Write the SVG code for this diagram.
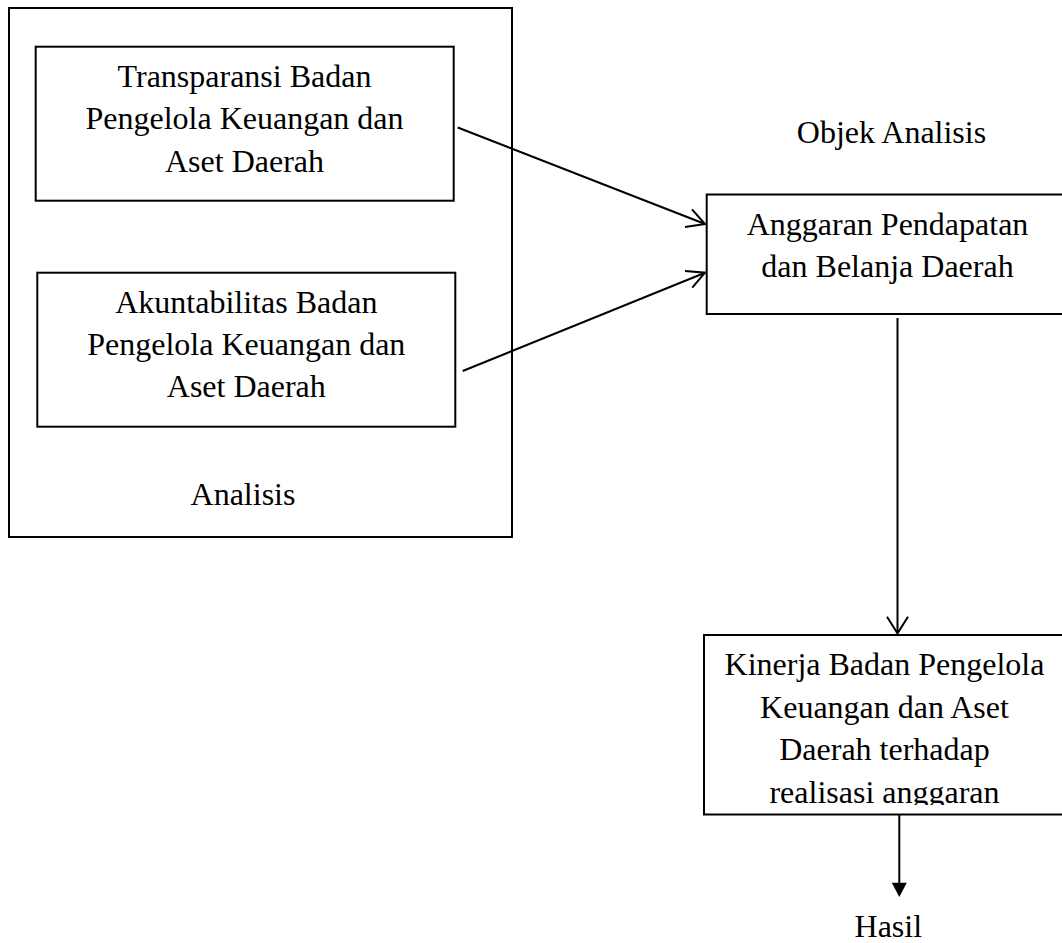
<svg xmlns="http://www.w3.org/2000/svg" width="1062" height="943" viewBox="0 0 1062 943">
<style>
.box{fill:none;stroke:#000;stroke-width:2}
.t{font-family:"Liberation Serif","Times New Roman",serif;font-size:32px;fill:#000;text-anchor:middle}
.c{fill:none;stroke:#000;stroke-width:2}
</style>
<defs>
<clipPath id="kclip"><rect x="700" y="630" width="370" height="175"/></clipPath>
</defs>
<rect width="1062" height="943" fill="#fff"/>
<g id="analisis">
<rect class="box" x="9" y="8" width="503" height="529"/>
<text class="t" x="243" y="505">Analisis</text>
</g>
<g id="transparansi">
<rect class="box" x="35.7" y="46.7" width="418" height="154"/>
<text class="t" x="244.5" y="86.5">Transparansi Badan</text>
<text class="t" x="244.5" y="129">Pengelola Keuangan dan</text>
<text class="t" x="244.5" y="171.5">Aset Daerah</text>
</g>
<g id="akuntabilitas">
<rect class="box" x="37.3" y="272.7" width="418" height="154"/>
<text class="t" x="246.3" y="312.7">Akuntabilitas Badan</text>
<text class="t" x="246.3" y="355">Pengelola Keuangan dan</text>
<text class="t" x="246.3" y="397.3">Aset Daerah</text>
</g>
<g id="objek">
<text class="t" x="891.5" y="143.3">Objek Analisis</text>
</g>
<g id="apbd">
<rect class="box" x="706.7" y="194.5" width="370" height="119.5"/>
<text class="t" x="887.5" y="235">Anggaran Pendapatan</text>
<text class="t" x="887.5" y="276.7">dan Belanja Daerah</text>
</g>
<g id="kinerja">
<rect class="box" x="704" y="635" width="370" height="179.5"/>
<g clip-path="url(#kclip)">
<text class="t" x="884.5" y="675">Kinerja Badan Pengelola</text>
<text class="t" x="884.5" y="717.5">Keuangan dan Aset</text>
<text class="t" x="884.5" y="760">Daerah terhadap</text>
<text class="t" x="884.5" y="802.5">realisasi anggaran</text>
</g>
</g>
<g id="hasil">
<text class="t" x="888.3" y="936.5">Hasil</text>
</g>
<g id="connectors">
<line class="c" x1="457.7" y1="127.5" x2="705" y2="224"/>
<polyline class="c" points="685,227 705,224 692,209.3"/>
<line class="c" x1="462.7" y1="371" x2="705" y2="272.7"/>
<polyline class="c" points="685,271 705,272.7 692.3,287.7"/>
<line class="c" x1="897.5" y1="318" x2="897.5" y2="633.3"/>
<polyline class="c" points="887,616.7 897.5,633.3 908,616.7"/>
<line class="c" x1="899.3" y1="815" x2="899.3" y2="884"/>
<polygon points="891.8,882.7 906.8,882.7 899.3,897" fill="#000"/>
</g>
</svg>
